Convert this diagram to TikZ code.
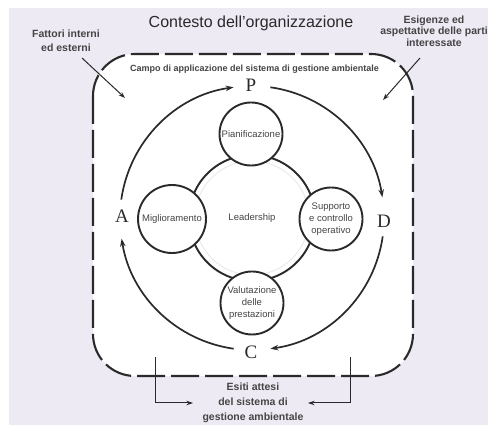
\documentclass[tikz,border=0pt]{standalone}
\usepackage{fontspec}
\setmainfont{Liberation Sans}
\newfontfamily\pdcafont{Liberation Serif}
\usetikzlibrary{arrows.meta}
\definecolor{lav}{HTML}{EDEAF4}
\definecolor{ink}{HTML}{2A2A2A}
\definecolor{lbl}{HTML}{454545}
\begin{document}
\begin{tikzpicture}[x=1pt,y=-1pt,
  cyc/.style={draw=ink,line width=1.7pt,-{Stealth[length=8pt,width=5.5pt]}},
  ptr/.style={draw=ink,line width=1pt,-{Stealth[length=6.5pt,width=4.5pt]}},
  bubble/.style={circle,draw=ink,line width=1.9pt,fill=white,minimum size=63pt,inner sep=0pt,align=center,font=\fontsize{9.5}{12}\selectfont,text=lbl},
  letter/.style={font=\pdcafont\fontsize{19}{19}\selectfont,text=ink,inner sep=0pt},
  lbl/.style={font=\bfseries\fontsize{10}{12}\selectfont,text=lbl,align=center,inner sep=0pt}]
\useasboundingbox (0,0) rectangle (488,427);
\fill[white] (0,0) rectangle (488,427);
\fill[lav] (9,8) rectangle (488,425);
\fill[white,rounded corners=42pt] (93,54) rectangle (413,376);
\draw[ink,line width=2.1pt,dash pattern=on 28pt off 6pt,rounded corners=42pt] (93,54) rectangle (413,376);

\node[font=\fontsize{16}{16}\selectfont,text=ink,inner sep=0pt] (title) at (251,23) {Contesto dell'organizzazione};
\node[lbl,font=\bfseries\fontsize{9}{9}\selectfont] (campo) at (254.5,69) {Campo di applicazione del sistema di gestione ambientale};
\node[lbl,font=\bfseries\fontsize{10.5}{14}\selectfont] (fattori) at (66,41) {Fattori interni\\ed esterni};
\node[lbl,font=\bfseries\fontsize{10.5}{11.5}\selectfont] (esig) at (434,31) {Esigenze ed\\aspettative delle parti\\interessate};

\coordinate (f1) at (82,58);
\coordinate (f2) at (125,98);
\draw[ptr] (f1) -- (f2);
\coordinate (e1) at (420,58);
\coordinate (e2) at (383,100);
\draw[ptr] (e1) -- (e2);

\coordinate (o) at (252,218);
\node[letter] (P) at (251,85) {P};
\node[letter] (D) at (384,221) {D};
\node[letter] (C) at (251,352) {C};
\node[letter] (A) at (122,216) {A};
\draw[cyc] ([shift={(-82:132)}]o) arc[start angle=-82,end angle=-9,radius=132];
\draw[cyc] ([shift={(8:132)}]o) arc[start angle=8,end angle=82,radius=132];
\draw[cyc] ([shift={(98:132)}]o) arc[start angle=98,end angle=171,radius=132];
\draw[cyc] ([shift={(-172:132)}]o) arc[start angle=-172,end angle=-98,radius=132];

\draw[black!8,line width=1pt] (o) circle[radius=57];
\draw[ink,line width=1.9pt] (o) circle[radius=63];
\node[text=lbl,font=\fontsize{9.5}{12}\selectfont] (lead) at (252,218) {Leadership};
\node[bubble] (pian) at (251,134) {Pianificazione};
\node[bubble] (supp) at (331,219) {Supporto\\e controllo\\operativo};
\node[bubble] (valu) at (252,303) {Valutazione\\delle\\prestazioni};
\node[bubble,minimum size=68pt] (migl) at (172,219) {Miglioramento};

\node[lbl,font=\bfseries\fontsize{10.5}{15}\selectfont] (esiti) at (253,403) {Esiti attesi\\del sistema di\\gestione ambientale};
\coordinate (bl) at (155,357);
\coordinate (blt) at (193,403);
\coordinate (br) at (350,357);
\coordinate (brt) at (308,403);
\draw[ptr] (bl) |- (blt);
\draw[ptr] (br) |- (brt);
\end{tikzpicture}
\end{document}
